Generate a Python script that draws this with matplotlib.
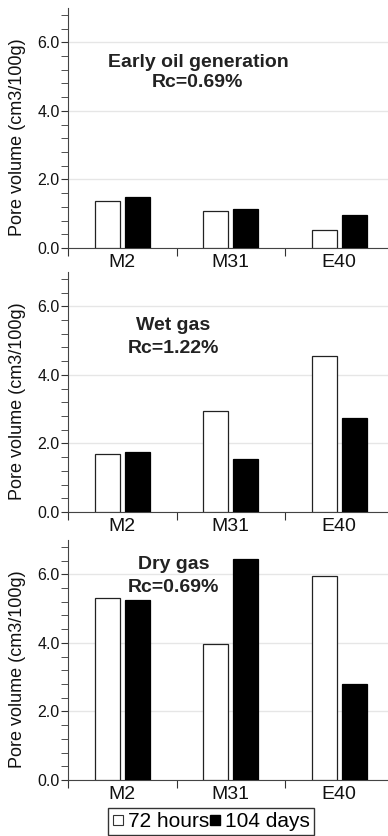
import matplotlib.pyplot as plt
from matplotlib.lines import Line2D
from matplotlib.ticker import MultipleLocator
import numpy as np

plt.rcParams['font.family'] = ['Liberation Sans', 'DejaVu Sans']

samples = ['M2', 'M31', 'E40']
early_72h = [1.37, 1.08, 0.53]
early_104d = [1.49, 1.15, 0.96]
wet_72h = [1.69, 2.95, 4.56]
wet_104d = [1.75, 1.54, 2.73]
dry_72h = [5.31, 3.98, 5.96]
dry_104d = [5.24, 6.45, 2.80]

panels = [
    (early_72h, early_104d, ['Early oil generation', 'Rc=0.69%'], [(0.70, 5.29), (0.69, 4.71)]),
    (wet_72h, wet_104d, ['Wet gas', 'Rc=1.22%'], [(0.47, 5.32), (0.47, 4.65)]),
    (dry_72h, dry_104d, ['Dry gas', 'Rc=0.69%'], [(0.47, 6.14), (0.47, 5.47)]),
]
bottoms = [0.7033, 0.3876, 0.0670]

fig = plt.figure(figsize=(3.88, 8.36), dpi=100)
x = np.arange(len(samples))
for (v72, v104, labels, pos), b in zip(panels, bottoms):
    ax = fig.add_axes([0.1753, b, 0.839, 0.2871])
    ax.bar(x - 0.14, v72, 0.23, color='white', edgecolor='#222222', linewidth=0.9, zorder=3)
    ax.bar(x + 0.14, v104, 0.23, color='black', edgecolor='black', linewidth=0.9, zorder=3)
    ax.set_xlim(-0.5, 2.5)
    ax.set_ylim(0, 7)
    ax.yaxis.set_major_locator(MultipleLocator(2))
    ax.yaxis.set_minor_locator(MultipleLocator(0.4))
    ax.yaxis.set_major_formatter(plt.FormatStrFormatter('%.1f'))
    ax.grid(axis='y', which='major', color='#e6e6e6', linewidth=1, zorder=0)
    ax.set_xticks([-0.5, 0.5, 1.5, 2.5])
    ax.set_xticklabels([])
    ax.set_xticks(x, minor=True)
    ax.set_xticklabels(samples, minor=True, fontsize=14, color='#111111')
    ax.tick_params(axis='x', which='minor', length=0, pad=4)
    ax.tick_params(axis='x', which='major', length=6, color='#333333')
    ax.tick_params(axis='y', which='both', length=5, color='#333333', labelsize=11.5,
                   pad=1, labelcolor='#111111')
    for s in ['top', 'right']:
        ax.spines[s].set_visible(False)
    for s in ['left', 'bottom']:
        ax.spines[s].set_color('#444444')
    ax.set_ylabel('Pore volume (cm3/100g)', fontsize=13, color='#111111')
    ax.yaxis.set_label_coords(-0.128, 0.46)
    for t, (tx, ty) in zip(labels, pos):
        ax.text(tx, ty, t, ha='center', va='baseline', fontsize=14, fontweight='bold',
                color='#222222')

handles = [Line2D([], [], marker='s', linestyle='none', markerfacecolor='white',
                  markeredgecolor='#333333', markersize=6.5, markeredgewidth=0.8),
           Line2D([], [], marker='s', linestyle='none', markerfacecolor='black',
                  markeredgecolor='black', markersize=7)]
leg = fig.legend(handles, ['72 hours', '104 days'], loc='upper left',
                 bbox_to_anchor=(108 / 388, 1 - 808 / 836), ncol=2, fontsize=15,
                 frameon=True, fancybox=False, handlelength=0.6, handletextpad=0.15,
                 columnspacing=0.0, borderpad=0.2, borderaxespad=0)
leg.get_frame().set_edgecolor('black')
leg.get_frame().set_linewidth(1)

fig.savefig('out.png', dpi=100)
